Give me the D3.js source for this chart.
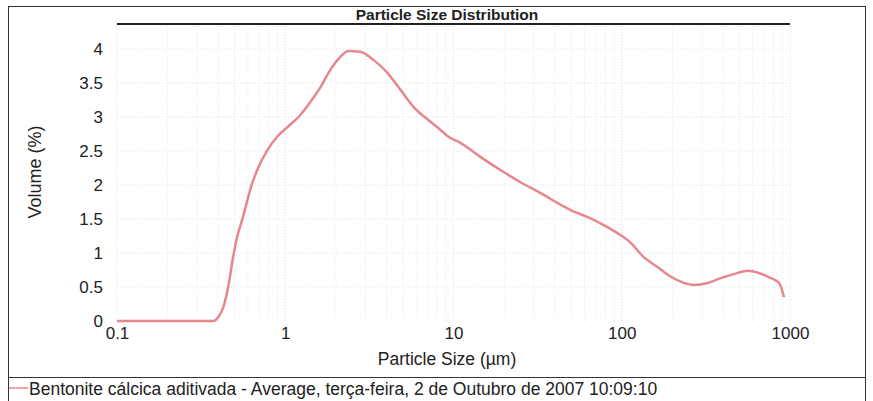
<!DOCTYPE html>
<html>
<head>
<meta charset="utf-8">
<script src="https://cdn.jsdelivr.net/npm/d3@7"></script>
<style>
  body { margin: 0; background: #fff; }
  text { font-family: "Liberation Sans", Arial, sans-serif; fill: #222; }
</style>
</head>
<body>
<script>
var width = 873,
	height = 401;

// particle size (um) and volume (%)
var sizes = [0.1, 0.2, 0.3, 0.35, 0.372, 0.40, 0.428, 0.458, 0.49, 0.518, 0.555, 0.637, 0.71, 0.782, 0.895, 1.03,
	1.23, 1.41, 1.62, 1.85, 2.12, 2.37, 2.79, 3.34, 4.05, 4.84, 5.78, 7.3, 8.37, 9.33, 11.0, 14.5, 19.0, 25.0,
	33.0, 43.3, 49.7, 65.3, 78.2, 94.6, 113, 135, 164, 196, 234, 268, 325, 388, 464, 562, 646, 740, 861, 921];
var volume = [0, 0, 0, 0, 0.0, 0.06, 0.2, 0.5, 0.94, 1.24, 1.49, 2.03, 2.32, 2.51, 2.71, 2.85,
	3.03, 3.22, 3.44, 3.69, 3.88, 3.97, 3.96, 3.84, 3.65, 3.40, 3.15, 2.93, 2.81, 2.71, 2.62, 2.41, 2.22, 2.04,
	1.88, 1.71, 1.63, 1.51, 1.41, 1.29, 1.15, 0.94, 0.79, 0.65, 0.56, 0.53, 0.56, 0.63, 0.69, 0.74, 0.71, 0.65, 0.56, 0.35];

var xTicks = [0.1, 1, 10, 100, 1000],
	yTicks = [0, 0.5, 1, 1.5, 2, 2.5, 3, 3.5, 4];

var title = "Particle Size Distribution",
	xTitle = "Particle Size (\u00b5m)",
	yTitle = "Volume (%)",
	legendText = "Bentonite c\u00e1lcica aditivada - Average, ter\u00e7a-feira, 2 de Outubro de 2007 10:09:10";

var lineColor = "#e8868f";

var svg = d3.select("body")
		.append("svg")
		.attr("width", width)
		.attr("height", height);

var x = d3.scaleLog().domain([0.1, 1000]).range([117, 790]),
	y = d3.scaleLinear().domain([0, 297 / 68]).range([321, 24]);

// outer frame
svg.append("rect")
	.attr("x", 8.5).attr("y", 6.5)
	.attr("width", 857).attr("height", 400)
	.attr("fill", "none").attr("stroke", "#333").attr("stroke-width", 1);
svg.append("line")
	.attr("x1", 8).attr("x2", 866).attr("y1", 377.5).attr("y2", 377.5)
	.attr("stroke", "#333");

// grid
var minor = [];
for (var d = 0.1; d < 1000; d *= 10)
	for (var k = 1; k <= 10; k++) minor.push(d * k);

svg.append("g").selectAll("line")
	.data(minor)
	.join("line")
	.attr("x1", function(v) { return x(v); })
	.attr("x2", function(v) { return x(v); })
	.attr("y1", y(0)).attr("y2", 24)
	.attr("stroke", "#e2e6e8").attr("stroke-dasharray", "1,2");

svg.append("g").selectAll("line")
	.data(yTicks.slice(1))
	.join("line")
	.attr("x1", 117).attr("x2", 790)
	.attr("y1", function(v) { return y(v); })
	.attr("y2", function(v) { return y(v); })
	.attr("stroke", "#dde2e4").attr("stroke-dasharray", "1,2");

// top border of plot
svg.append("line")
	.attr("x1", 117).attr("x2", 790).attr("y1", 24).attr("y2", 24)
	.attr("stroke", "#222").attr("stroke-width", 2);

// axes (labels only)
var xAxis = svg.append("g")
	.attr("transform", "translate(0," + y(0) + ")")
	.call(d3.axisBottom(x).tickValues(xTicks).tickFormat(d3.format("~g")).tickSize(0).tickPadding(6));
xAxis.select(".domain").remove();
xAxis.selectAll("text").attr("font-size", 17).attr("fill", "#222");

var yAxis = svg.append("g")
	.attr("transform", "translate(109,0)")
	.call(d3.axisLeft(y).tickValues(yTicks).tickFormat(d3.format("~g")).tickSize(0).tickPadding(6));
yAxis.select(".domain").remove();
yAxis.selectAll("text").attr("font-size", 17).attr("fill", "#222");

// titles
svg.append("text")
	.attr("x", 447).attr("y", 20)
	.attr("text-anchor", "middle")
	.attr("font-size", 15.5).attr("font-weight", "bold")
	.text(title);

svg.append("text")
	.attr("x", 447).attr("y", 365)
	.attr("text-anchor", "middle")
	.attr("font-size", 17.5)
	.text(xTitle);

svg.append("text")
	.attr("transform", "translate(41,172) rotate(-90)")
	.attr("text-anchor", "middle")
	.attr("font-size", 18)
	.text(yTitle);

// curve
var line = d3.line()
	.x(function(d, i) { return x(sizes[i]); })
	.y(function(d) { return y(d); })
	.curve(d3.curveMonotoneX);

svg.append("path")
	.datum(volume)
	.attr("fill", "none")
	.attr("stroke", lineColor)
	.attr("stroke-width", 2.5)
	.attr("d", line);

// legend
svg.append("line")
	.attr("x1", 9).attr("x2", 28).attr("y1", 388).attr("y2", 388)
	.attr("stroke", lineColor).attr("stroke-width", 1.5);
svg.append("text")
	.attr("x", 29).attr("y", 395)
	.attr("font-size", 17.5)
	.text(legendText);
</script>
</body>
</html>
